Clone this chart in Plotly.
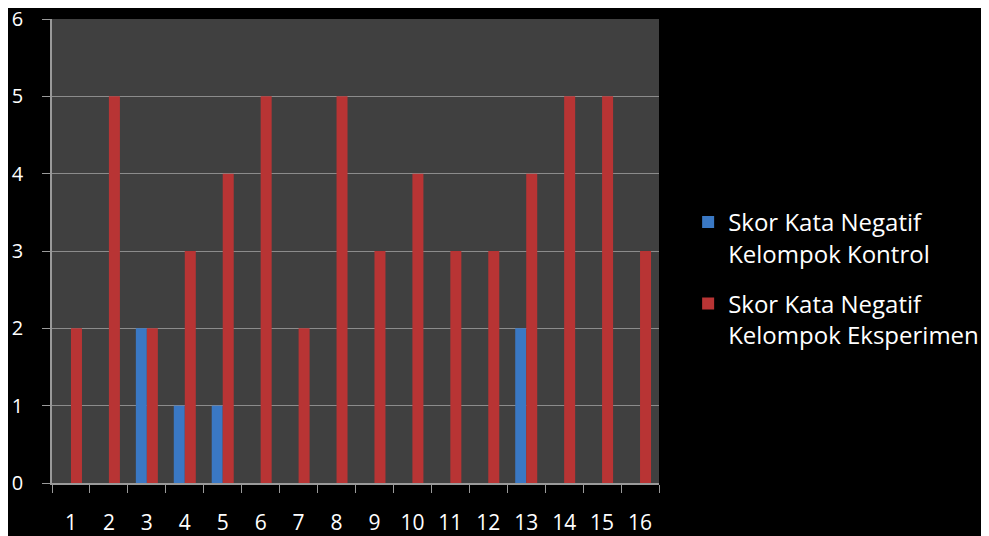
import plotly.graph_objects as go

categories = [str(i) for i in range(1, 17)]
kontrol = [0, 0, 2, 1, 1, 0, 0, 0, 0, 0, 0, 0, 2, 0, 0, 0]
eksperimen = [2, 5, 2, 3, 4, 5, 2, 5, 3, 4, 3, 3, 4, 5, 5, 3]
y_ticks = [0, 1, 2, 3, 4, 5, 6]
names = ["Skor Kata Negatif<br>Kelompok Kontrol", "Skor Kata Negatif<br>Kelompok Eksperimen"]

fig = go.Figure()
fig.add_trace(go.Bar(x=categories, y=kontrol, name=names[0], legendgroup="a",
                     marker=dict(color="#3a78c4", line=dict(width=0))))
fig.add_trace(go.Bar(x=categories, y=eksperimen, name=names[1], legendgroup="b",
                     marker=dict(color="#b83434", line=dict(width=0))))

fig.update_layout(
    width=989, height=536,
    paper_bgcolor="black", plot_bgcolor="#404040",
    margin=dict(l=44, r=338, t=11, b=61, autoexpand=False),
    barmode="group", bargap=0.42, bargroupgap=0.0,
    font=dict(family="Open Sans", color="white"),
    legend=dict(x=1.048, y=0.61, xanchor="left", yanchor="top", valign="top",
                traceorder="grouped",
                font=dict(size=24, color="white"), tracegroupgap=16,
                bgcolor="rgba(0,0,0,0)"),
    showlegend=True,
)
fig.update_xaxes(type="category", tickson="boundaries", ticks="outside", ticklen=8,
                 tickcolor="#9a9a9a", showline=True, linecolor="#9a9a9a", linewidth=1.5,
                 tickfont=dict(size=21, color="white"), showgrid=False,
                 ticklabelstandoff=20, automargin=False, ticklabeloverflow="allow")
fig.update_yaxes(range=[0, 6], tickvals=y_ticks, ticks="outside", ticklen=8,
                 tickcolor="#9a9a9a", showline=True, linecolor="#9a9a9a", linewidth=1.5,
                 gridcolor="#8c8c8c", gridwidth=1, zeroline=False,
                 tickfont=dict(size=20, color="white"), ticklabelstandoff=15,
                 automargin=False, ticklabeloverflow="allow")

fig.write_html("out.html")
